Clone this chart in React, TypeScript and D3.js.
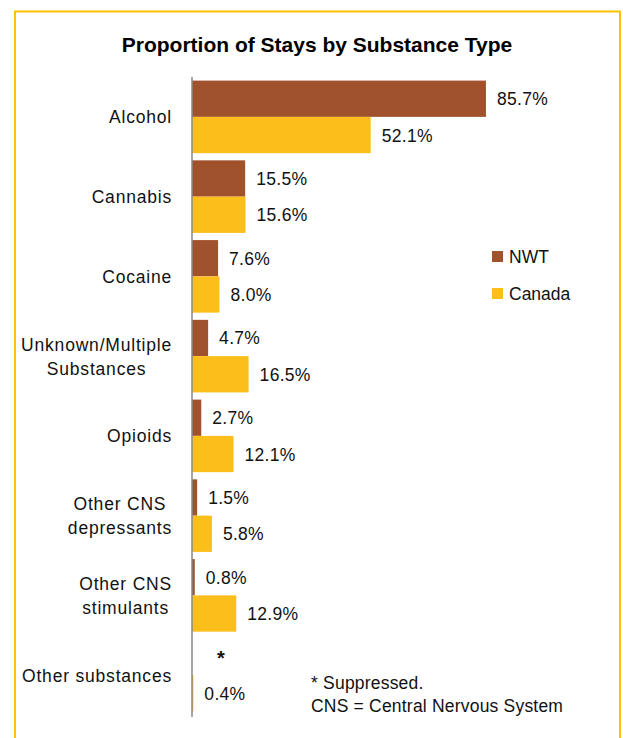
import React, { useEffect, useRef } from "react";
import * as d3 from "d3";

const categories: string[] = [
  "Alcohol",
  "Cannabis",
  "Cocaine",
  "Unknown/Multiple\nSubstances",
  "Opioids",
  "Other CNS\ndepressants",
  "Other CNS\nstimulants",
  "Other substances",
];
const seriesNames: string[] = ["NWT", "Canada"];
const nwtValues: (number | null)[] = [85.7, 15.5, 7.6, 4.7, 2.7, 1.5, 0.8, null];
const canadaValues: (number | null)[] = [52.1, 15.6, 8.0, 16.5, 12.1, 5.8, 12.9, 0.4];
const seriesColors: string[] = ["#A0522D", "#FCBE1A"];
const titleText = "Proportion of Stays by Substance Type";
const footnotes: string[] = ["* Suppressed.", "CNS = Central Nervous System"];
const suppressedMark = "*";

const W = 623;
const H = 738;
const FONT = "'Liberation Sans', Arial, sans-serif";
const FS = 17.5;

export default function App() {
  const ref = useRef<SVGSVGElement | null>(null);

  useEffect(() => {
    const svg = d3.select(ref.current);
    svg.selectAll("*").remove();

    // border
    svg
      .append("rect")
      .attr("x", 15)
      .attr("y", 11.5)
      .attr("width", 605)
      .attr("height", 760)
      .attr("fill", "none")
      .attr("stroke", "#FFC000")
      .attr("stroke-width", 2);

    // title
    svg
      .append("text")
      .attr("x", 317)
      .attr("y", 52)
      .attr("text-anchor", "middle")
      .attr("font-family", FONT)
      .attr("font-weight", "bold")
      .attr("font-size", 21)
      .attr("fill", "#000")
      .text(titleText);

    const x = d3.scaleLinear().domain([0, 100]).range([192, 535]);
    const y = d3
      .scaleBand<number>()
      .domain(d3.range(categories.length))
      .range([77, 715])
      .paddingInner(0.09)
      .paddingOuter(0.045);
    const inner = d3
      .scaleBand<string>()
      .domain(seriesNames)
      .range([0, y.bandwidth()]);

    const table = categories.map((c, i) => ({
      cat: c,
      i,
      vals: [nwtValues[i], canadaValues[i]],
    }));

    const g = svg.append("g");
    table.forEach((row) => {
      row.vals.forEach((v, s) => {
        const y0 = (y(row.i) as number) + (inner(seriesNames[s]) as number);
        const h = inner.bandwidth();
        if (v !== null) {
          g.append("rect")
            .attr("x", x(0))
            .attr("y", y0)
            .attr("width", x(v) - x(0))
            .attr("height", h)
            .attr("fill", seriesColors[s]);
          g.append("text")
            .attr("x", x(v) + 11)
            .attr("y", y0 + h / 2 + 6.5)
            .attr("font-family", FONT)
            .attr("font-size", FS)
            .attr("letter-spacing", 0.3)
            .attr("fill", "#111")
            .text(v.toFixed(1) + "%");
        } else {
          g.append("text")
            .attr("x", x(0) + 29)
            .attr("y", y0 + h / 2 + 8)
            .attr("text-anchor", "middle")
            .attr("font-family", FONT)
            .attr("font-weight", "bold")
            .attr("font-size", 20)
            .attr("fill", "#111")
            .text(suppressedMark);
        }
      });

      // category label
      const lines = row.cat.split("\n");
      const cy = (y(row.i) as number) + y.bandwidth() / 2;
      const lh = 24;
      const t = svg
        .append("text")
        .attr("font-family", FONT)
        .attr("font-size", FS)
        .attr("letter-spacing", 0.8)
        .attr("fill", "#111")
        .attr("text-anchor", "middle");
      lines.forEach((ln, k) => {
        t.append("tspan")
          .attr("x", 0)
          .attr("y", cy + 6.5 + (k - (lines.length - 1) / 2) * lh)
          .text(ln);
      });
      const bb = (t.node() as SVGTextElement).getBBox();
      t.selectAll("tspan").attr("x", 172 - bb.width / 2);
    });

    // axis line
    svg
      .append("line")
      .attr("x1", x(0))
      .attr("x2", x(0))
      .attr("y1", 77)
      .attr("y2", 717)
      .attr("stroke", "#888")
      .attr("stroke-width", 1.5);

    // legend
    const legendY = [251, 288];
    seriesNames.forEach((n, s) => {
      svg
        .append("rect")
        .attr("x", 492)
        .attr("y", legendY[s])
        .attr("width", 11)
        .attr("height", 11)
        .attr("fill", seriesColors[s]);
      svg
        .append("text")
        .attr("x", 509)
        .attr("y", legendY[s] + 11.5)
        .attr("font-family", FONT)
        .attr("font-size", FS)
        .attr("fill", "#111")
        .text(n);
    });

    // footnotes
    footnotes.forEach((f, k) => {
      svg
        .append("text")
        .attr("x", 311)
        .attr("y", 689 + k * 23)
        .attr("font-family", FONT)
        .attr("font-size", FS)
        .attr("letter-spacing", 0.2)
        .attr("fill", "#111")
        .text(f);
    });
  }, []);

  return (
    <svg
      ref={ref}
      width={W}
      height={H}
      style={{ position: "absolute", left: 0, top: 0, background: "#fff" }}
    />
  );
}
